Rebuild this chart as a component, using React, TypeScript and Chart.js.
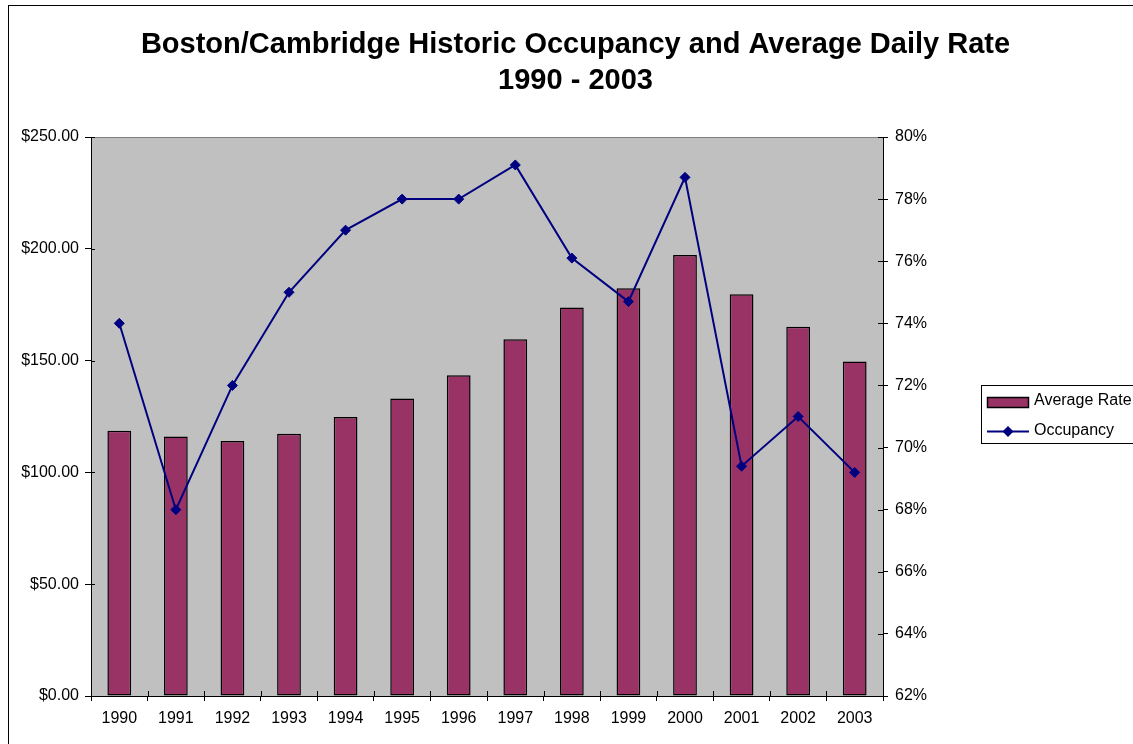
import React, { useEffect, useRef } from "react";
import { Chart, registerables } from "chart.js";

Chart.register(...registerables);

const years = ["1990", "1991", "1992", "1993", "1994", "1995", "1996", "1997", "1998", "1999", "2000", "2001", "2002", "2003"];
const averageRate = [118.6, 116.1, 114.0, 117.3, 124.8, 133.0, 143.5, 159.6, 173.7, 182.4, 197.2, 179.7, 165.1, 149.6];
const occupancy = [74.0, 68.0, 72.0, 75.0, 77.0, 78.0, 78.0, 79.1, 76.1, 74.7, 78.7, 69.4, 71.0, 69.2];
const titleLines = ["Boston/Cambridge Historic Occupancy and Average Daily Rate", "1990 - 2003"];
const seriesNames = ["Average Rate", "Occupancy"];

const FONT = 'Arial, "Liberation Sans", sans-serif';
const BAR_COLOR = "#993366";
const LINE_COLOR = "#000080";

const framePlugin = {
  id: "frame",
  beforeDraw(chart: any) {
    const { ctx, chartArea: a } = chart;
    ctx.save();
    ctx.fillStyle = "#ffffff";
    ctx.fillRect(0, 0, chart.width, chart.height);
    ctx.strokeStyle = "#000000";
    ctx.lineWidth = 1;
    ctx.strokeRect(8.5, 5.5, chart.width + 50, chart.height + 50);
    ctx.fillStyle = "#C0C0C0";
    ctx.fillRect(a.left, a.top, a.right - a.left, a.bottom - a.top);
    ctx.strokeStyle = "#808080";
    ctx.strokeRect(Math.round(a.left) + 0.5, Math.round(a.top) + 0.5, Math.round(a.right - a.left), Math.round(a.bottom - a.top));
    ctx.restore();
  },
  afterDraw(chart: any) {
    const { ctx, chartArea: a, scales } = chart;
    ctx.save();
    ctx.strokeStyle = "#000000";
    ctx.lineWidth = 1;
    ctx.beginPath();
    // inner halves of crossing tick marks
    scales.y.ticks.forEach((t: any) => {
      const py = Math.round(scales.y.getPixelForValue(t.value)) + 0.5;
      ctx.moveTo(a.left, py);
      ctx.lineTo(a.left + 4, py);
    });
    scales.y2.ticks.forEach((t: any) => {
      const py = Math.round(scales.y2.getPixelForValue(t.value)) + 0.5;
      ctx.moveTo(a.right - 5, py);
      ctx.lineTo(a.right, py);
    });
    const n = years.length;
    for (let i = 0; i <= n; i++) {
      const px = Math.round(scales.x.getPixelForValue(i - 0.5)) + 0.5;
      ctx.moveTo(px, a.bottom - 5);
      ctx.lineTo(px, a.bottom);
    }
    ctx.stroke();

    // legend
    const lx = 981.5, ly = 385.5;
    ctx.strokeRect(lx, ly, 200, 58);
    ctx.fillStyle = BAR_COLOR;
    ctx.fillRect(988, 398, 40, 9);
    ctx.lineWidth = 1.5;
    ctx.strokeRect(987.5, 397.5, 41, 10);
    ctx.strokeStyle = LINE_COLOR;
    ctx.lineWidth = 2;
    ctx.beginPath();
    ctx.moveTo(987, 431.5);
    ctx.lineTo(1029, 431.5);
    ctx.stroke();
    ctx.fillStyle = LINE_COLOR;
    ctx.beginPath();
    ctx.moveTo(1008, 426);
    ctx.lineTo(1013.5, 431.5);
    ctx.lineTo(1008, 437);
    ctx.lineTo(1002.5, 431.5);
    ctx.closePath();
    ctx.fill();
    ctx.fillStyle = "#000000";
    ctx.font = `16px ${FONT}`;
    ctx.textBaseline = "middle";
    ctx.textAlign = "left";
    ctx.fillText(seriesNames[0], 1034, 401);
    ctx.fillText(seriesNames[1], 1034, 430.5);
    ctx.restore();
  },
};

export default function App() {
  const ref = useRef<HTMLCanvasElement | null>(null);
  useEffect(() => {
    if (!ref.current) return;
    Chart.defaults.font.family = FONT;
    Chart.defaults.color = "#000000";
    const chart = new Chart(ref.current, {
      type: "bar",
      data: {
        labels: years,
        datasets: [
          {
            type: "line",
            label: seriesNames[1],
            data: occupancy,
            yAxisID: "y2",
            borderColor: LINE_COLOR,
            borderWidth: 2,
            backgroundColor: LINE_COLOR,
            pointStyle: "rectRot",
            pointRadius: 5,
            pointBackgroundColor: LINE_COLOR,
            pointBorderColor: LINE_COLOR,
            pointBorderWidth: 1,
            tension: 0,
            order: 1,
          } as any,
          {
            type: "bar",
            label: seriesNames[0],
            data: averageRate,
            yAxisID: "y",
            backgroundColor: BAR_COLOR,
            borderColor: "#000000",
            borderWidth: 1.5,
            borderSkipped: false,
            barPercentage: 0.42,
            categoryPercentage: 1,
            order: 2,
          } as any,
        ],
      },
      options: {
        animation: false,
        responsive: false,
        layout: { padding: { left: 18, top: 18, right: 0, bottom: 0 } },
        plugins: {
          legend: { display: false },
          tooltip: { enabled: false },
          title: {
            display: true,
            text: titleLines,
            color: "#000000",
            font: { size: 29, weight: "bold", lineHeight: "36px" as any, family: FONT },
            padding: { top: 9, bottom: 38 },
          },
        },
        scales: {
          x: {
            offset: true,
            grid: { display: true, drawOnChartArea: false, drawTicks: true, tickLength: 5, color: "#000000", offset: true },
            border: { display: true, color: "#000000", width: 1 },
            ticks: { font: { size: 16 }, color: "#000000", padding: 8, maxRotation: 0, autoSkip: false },
            afterFit: (s: any) => { s.height = 48; },
          },
          y: {
            position: "left",
            min: 0,
            max: 250,
            grid: { display: true, drawOnChartArea: false, drawTicks: true, tickLength: 6, color: "#000000" },
            border: { display: true, color: "#000000", width: 1 },
            ticks: {
              stepSize: 50,
              font: { size: 16 },
              color: "#000000",
              padding: 6,
              callback: (v: any) => "$" + Number(v).toFixed(2),
            },
            afterFit: (s: any) => { s.width = 73; },
          },
          y2: {
            position: "right",
            min: 62,
            max: 80,
            grid: { display: true, drawOnChartArea: false, drawTicks: true, tickLength: 5, color: "#000000" },
            border: { display: true, color: "#000000", width: 1 },
            ticks: {
              stepSize: 2,
              font: { size: 16 },
              color: "#000000",
              padding: 7,
              callback: (v: any) => Number(v).toFixed(0) + "%",
            },
            afterFit: (s: any) => { s.width = 250; },
          },
        },
      },
      plugins: [framePlugin],
    });
    return () => chart.destroy();
  }, []);

  return (
    <div style={{ position: "absolute", left: 0, top: 0, width: 1133, height: 744, overflow: "hidden", background: "#fff" }}>
      <canvas ref={ref} width={1133} height={744} style={{ display: "block" }} />
    </div>
  );
}
